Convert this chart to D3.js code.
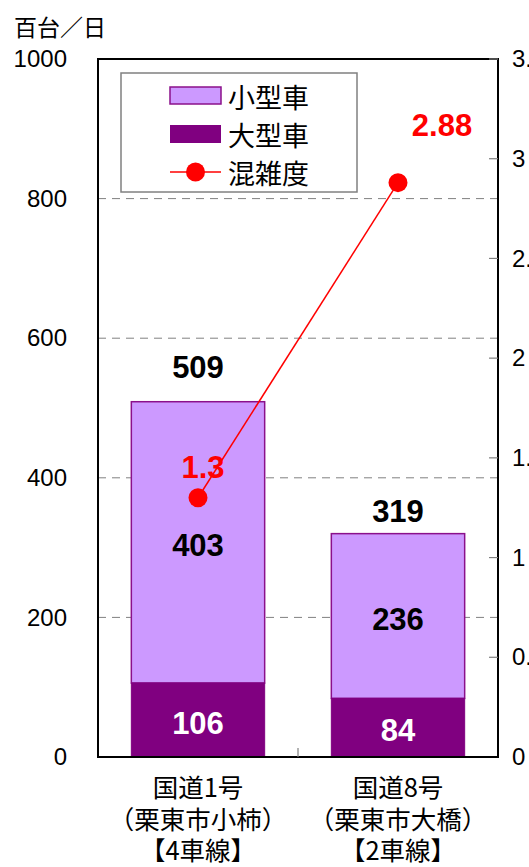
<!DOCTYPE html>
<html>
<head>
<meta charset="utf-8">
<script src="https://cdn.jsdelivr.net/npm/d3@7"></script>
<style>
  html, body { margin: 0; padding: 0; background: #fff; overflow: hidden; }
  svg { display: block; }
</style>
</head>
<body>
<svg id="chart" width="529" height="867"></svg>
<script>
// Traffic volume (hundreds of vehicles per day) and congestion ratio
const categories = [
  ["国道1号", "（栗東市小柿）", "【4車線】"],
  ["国道8号", "（栗東市大橋）", "【2車線】"]
];
const largeVehicles = [106, 84];    // 大型車
const smallVehicles = [403, 236];   // 小型車
const totals = [509, 319];
const congestion = [1.3, 2.88];     // 混雑度
const leftTicks = [0, 200, 400, 600, 800, 1000];
const rightTicks = [0, 0.5, 1, 1.5, 2, 2.5, 3, 3.5];
const legendLabels = ["小型車", "大型車", "混雑度"];

// layout
const W = 529, H = 867;
const plot = { left: 98, right: 498, top: 59, bottom: 757 };
const colSmall = "#CC99FF", colLarge = "#800080", colEdge = "#8B108B", colRatio = "#FF0000";
const cjk = "'Noto Sans CJK JP', 'Noto Sans', sans-serif";
const latin = "'Liberation Sans', Arial, sans-serif";
// nudges for the value labels, relative to their marks
const totalShift = [-34, -23];
const ratioShift = [[5, -30], [44, -57]];

const svg = d3.select("#chart");
const keys = categories.map(c => c[0]);

const x = d3.scaleBand().domain(keys).range([plot.left, plot.right])
  .paddingInner(1 / 3).paddingOuter(1 / 6);
const y = d3.scaleLinear().domain([0, 1000]).range([plot.bottom, plot.top]);
const y2 = d3.scaleLinear().domain([0, 3.5]).range([plot.bottom, plot.top]);

// dashed gridlines
svg.append("g").selectAll("line")
  .data(leftTicks.filter(t => t > 0 && t < 1000))
  .join("line")
  .attr("x1", plot.left).attr("x2", plot.right)
  .attr("y1", d => y(d)).attr("y2", d => y(d))
  .attr("stroke", "#808080").attr("stroke-width", 1)
  .attr("stroke-dasharray", "8,6");

// stacked bars
const bars = svg.append("g");
keys.forEach((k, i) => {
  bars.append("rect")
    .attr("x", x(k)).attr("width", x.bandwidth())
    .attr("y", y(largeVehicles[i] + smallVehicles[i]))
    .attr("height", y(largeVehicles[i]) - y(largeVehicles[i] + smallVehicles[i]))
    .attr("fill", colSmall).attr("stroke", colEdge).attr("stroke-width", 1.5);
  bars.append("rect")
    .attr("x", x(k)).attr("width", x.bandwidth())
    .attr("y", y(largeVehicles[i]))
    .attr("height", y(0) - y(largeVehicles[i]))
    .attr("fill", colLarge).attr("stroke", colLarge).attr("stroke-width", 1);
});

// frame
svg.append("rect")
  .attr("x", plot.left).attr("y", plot.top)
  .attr("width", plot.right - plot.left).attr("height", plot.bottom - plot.top)
  .attr("fill", "none").attr("stroke", "#000").attr("stroke-width", 2);

// left axis labels
const leftAxis = d3.axisLeft(y).tickValues(leftTicks).tickSize(0).tickPadding(31)
  .tickFormat(d3.format("d"));
svg.append("g").attr("transform", `translate(${plot.left},0)`).call(leftAxis)
  .call(g => g.select(".domain").remove())
  .call(g => g.selectAll("text").attr("font-family", latin).attr("font-size", 24).attr("fill", "#000"));

// right axis: inward ticks, labels outside
const rightAxis = d3.axisRight(y2).tickValues(rightTicks).tickSize(0).tickPadding(14)
  .tickFormat(d3.format("~g"));
svg.append("g").attr("transform", `translate(${plot.right},0)`).call(rightAxis)
  .call(g => g.select(".domain").remove())
  .call(g => g.selectAll("text").attr("font-family", latin).attr("font-size", 24).attr("fill", "#000"));
svg.append("g").selectAll("line")
  .data(rightTicks.filter(t => t > 0))
  .join("line")
  .attr("x1", plot.right - 9).attr("x2", plot.right)
  .attr("y1", d => y2(d)).attr("y2", d => y2(d))
  .attr("stroke", "#808080").attr("stroke-width", 1.2);

// category separator tick on the bottom edge
svg.append("line")
  .attr("x1", (plot.left + plot.right) / 2).attr("x2", (plot.left + plot.right) / 2)
  .attr("y1", plot.bottom - 9).attr("y2", plot.bottom)
  .attr("stroke", "#808080").attr("stroke-width", 1.2);

// category labels: one text block per category, three lines each
const catG = svg.append("g");
keys.forEach((k, i) => {
  const cx = x(k) + x.bandwidth() / 2;
  const t = catG.append("text")
    .attr("x", cx).attr("y", 797)
    .attr("text-anchor", "middle")
    .attr("font-family", cjk).attr("font-size", 25.5).attr("fill", "#000");
  categories[i].forEach((line, j) => {
    t.append("tspan").attr("x", cx).attr("dy", j === 0 ? 0 : 31.5).text(line);
  });
});

// bar value labels
const valG = svg.append("g").attr("font-family", latin).attr("font-weight", "bold")
  .attr("font-size", 31).attr("text-anchor", "middle").attr("dominant-baseline", "central");
keys.forEach((k, i) => {
  const cx = x(k) + x.bandwidth() / 2;
  valG.append("text").attr("x", cx).attr("y", y(totals[i]) + totalShift[i])
    .attr("fill", "#000").text(totals[i]);
  valG.append("text").attr("x", cx).attr("y", y(largeVehicles[i] + smallVehicles[i] / 2) + 3)
    .attr("fill", "#000").text(smallVehicles[i]);
  valG.append("text").attr("x", cx).attr("y", y(largeVehicles[i] / 2) + 3)
    .attr("fill", "#fff").text(largeVehicles[i]);
});

// congestion line
const pts = keys.map((k, i) => [x(k) + x.bandwidth() / 2, y2(congestion[i])]);
svg.append("path")
  .attr("d", d3.line()(pts))
  .attr("fill", "none").attr("stroke", colRatio).attr("stroke-width", 1.5);
svg.append("g").selectAll("circle").data(pts).join("circle")
  .attr("cx", d => d[0]).attr("cy", d => d[1]).attr("r", 9.5).attr("fill", colRatio);
svg.append("g").attr("font-family", latin).attr("font-weight", "bold")
  .attr("font-size", 31).attr("text-anchor", "middle").attr("dominant-baseline", "central")
  .selectAll("text").data(pts).join("text")
  .attr("x", (d, i) => d[0] + ratioShift[i][0])
  .attr("y", (d, i) => d[1] + ratioShift[i][1])
  .attr("fill", colRatio)
  .text((d, i) => d3.format("~g")(congestion[i]));

// legend
const lg = svg.append("g");
lg.append("rect").attr("x", 121).attr("y", 73).attr("width", 236).attr("height", 119)
  .attr("fill", "#fff").attr("stroke", "#808080").attr("stroke-width", 1.5);
lg.append("rect").attr("x", 170).attr("y", 87).attr("width", 51).attr("height", 17)
  .attr("fill", colSmall).attr("stroke", colEdge).attr("stroke-width", 1.5);
lg.append("rect").attr("x", 170).attr("y", 125).attr("width", 51).attr("height", 18)
  .attr("fill", colLarge);
lg.append("line").attr("x1", 170).attr("x2", 221).attr("y1", 172).attr("y2", 172)
  .attr("stroke", colRatio).attr("stroke-width", 1.5);
lg.append("circle").attr("cx", 195.5).attr("cy", 172).attr("r", 9.5).attr("fill", colRatio);
legendLabels.forEach((t, i) => {
  lg.append("text").attr("x", 228).attr("y", 96 + i * 38)
    .attr("dominant-baseline", "central")
    .attr("font-family", cjk).attr("font-size", 27).attr("fill", "#000")
    .text(t);
});

// unit label
svg.append("text").attr("x", 14).attr("y", 26).attr("dominant-baseline", "central")
  .attr("font-family", cjk).attr("font-size", 23).attr("fill", "#000")
  .text("百台／日");
</script>
</body>
</html>
